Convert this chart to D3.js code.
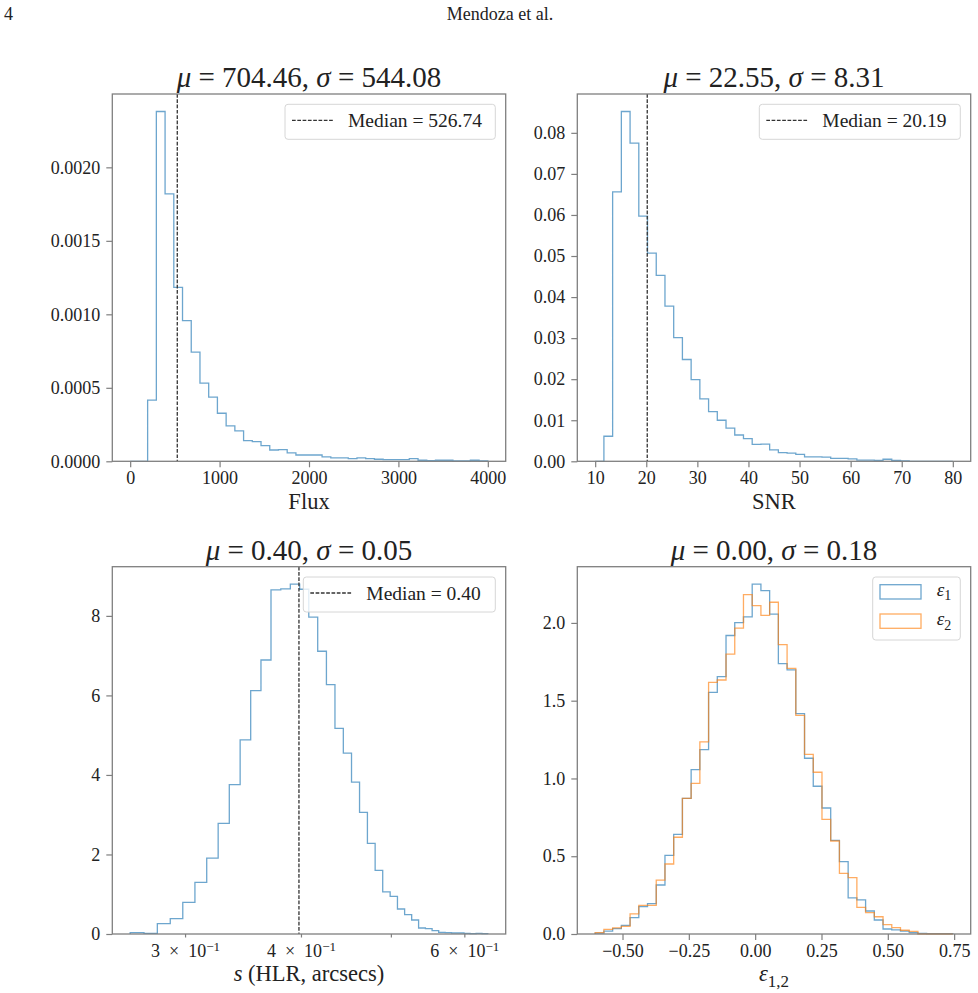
<!DOCTYPE html>
<html>
<head>
<meta charset="utf-8">
<script src="https://cdn.jsdelivr.net/npm/d3@7"></script>
<style>
  body { margin: 0; background: #fff; }
  svg text { font-family: "Liberation Serif", "DejaVu Serif", serif; fill: #222; }
</style>
</head>
<body>
<div class="figure"></div>
<script>
// Histogram densities, one value per bin (41 uniform bins each).
var fluxRange = [0, 4000];
var fluxValues = [0, 0, 0.000416, 0.00238, 0.00182, 0.001184, 0.000957, 0.000743, 0.000532, 0.000436,
  0.000327, 0.000241, 0.000207, 0.000141, 0.000134, 0.000107, 0.000077, 0.000080, 0.000057, 0.000043,
  0.000043, 0.000043, 0.000030, 0.000023, 0.000023, 0.000018, 0.000023, 0.000018, 0.000014, 0.000011,
  0.000011, 0.000011, 0.000018, 0.000007, 0.000005, 0.000007, 0.000007, 0.000002, 0.000002, 0.000007, 0.000002];
var fluxStats = [704.46, 544.08];
var fluxMedian = 526.74;

var snrRange = [10, 80];
var snrValues = [0, 0.0061, 0.0656, 0.0852, 0.0775, 0.0597, 0.0507, 0.0453, 0.0378, 0.0301,
  0.0248, 0.0199, 0.0152, 0.0121, 0.0100, 0.0081, 0.0064, 0.0055, 0.0041, 0.0042,
  0.0028, 0.0021, 0.0020, 0.0017, 0.0011, 0.0011, 0.0010, 0.0007, 0.0007, 0.0006,
  0.0003, 0.0003, 0.0002, 0.0005, 0.0002, 0.0001, 0, 0, 0, 0, 0];
var snrStats = [22.55, 8.31];
var snrMedian = 20.19;

var hlrRange = [0.2618, 0.636];
var hlrValues = [0.034, 0.017, 0.26, 0.386, 0.797, 1.30, 1.91, 2.78, 3.757, 4.88,
  6.12, 6.89, 8.654, 8.68, 8.797, 8.67, 7.97, 7.11, 6.27, 5.17,
  4.55, 3.82, 3.06, 2.28, 1.60, 1.057, 0.948, 0.629, 0.486, 0.352,
  0.151, 0.134, 0.084, 0.042, 0.034, 0.025, 0.025, 0.017, 0.008, 0.017, 0.008];
var hlrStats = [0.40, 0.05];
var hlrMedian = 0.398;

var ellRange = [-0.603, 0.745];
var e1Values = [0.006, 0.019, 0.034, 0.056, 0.105, 0.176, 0.195, 0.315, 0.506, 0.641,
  0.872, 1.057, 1.185, 1.554, 1.655, 1.919, 2.002, 2.039, 2.249, 2.208,
  2.056, 1.738, 1.698, 1.417, 1.130, 0.950, 0.810, 0.602, 0.465, 0.232,
  0.219, 0.148, 0.090, 0.032, 0.026, 0.019, 0.009, 0.004, 0.002, 0.002, 0.002];
var e2Values = [0.009, 0.030, 0.039, 0.049, 0.129, 0.184, 0.184, 0.347, 0.450, 0.622,
  0.872, 0.969, 1.235, 1.618, 1.633, 1.799, 1.966, 2.182, 2.111, 2.049,
  2.133, 1.861, 1.708, 1.406, 1.155, 1.040, 0.737, 0.598, 0.390, 0.362,
  0.171, 0.137, 0.111, 0.060, 0.041, 0.024, 0.017, 0, 0, 0, 0];
var ellStats = [0.00, 0.18];

// Tick values.
var fluxXTicks = [0, 1000, 2000, 3000, 4000];
var fluxYTicks = [0, 0.0005, 0.0010, 0.0015, 0.0020];
var snrXTicks = [10, 20, 30, 40, 50, 60, 70, 80];
var snrYTicks = [0, 0.01, 0.02, 0.03, 0.04, 0.05, 0.06, 0.07, 0.08];
var hlrXTicks = [0.3, 0.4, 0.5, 0.6];
var hlrXLabels = ["3", "4", "", "6"];
var hlrYTicks = [0, 2, 4, 6, 8];
var ellXTicks = [-0.5, -0.25, 0, 0.25, 0.5, 0.75];
var ellYTicks = [0, 0.5, 1.0, 1.5, 2.0];

var blue = "#1f77b4",
    orange = "#ff7f0e",
    frameColor = "#7f7f7f";

var w = 978,
    h = 993;

var svg = d3.select(".figure").append("svg")
  .attr("width", w)
  .attr("height", h);

// Page header.
svg.append("text").attr("x", 4).attr("y", 20).style("font-size", "18px").text("4");
svg.append("text").attr("x", 500).attr("y", 20).style("text-anchor", "middle")
  .style("font-size", "18px").text("Mendoza et al.");

// Bin edges for n uniform bins.
function edges(range, n) {
  return d3.range(n + 1).map(function(i) { return range[0] + i * (range[1] - range[0]) / n; });
}

// Outline of a step histogram.
function stepPoints(range, values) {
  var e = edges(range, values.length);
  var pts = [[e[0], 0]];
  values.forEach(function(v, i) {
    pts.push([e[i], v]);
    pts.push([e[i + 1], v]);
  });
  pts.push([e[e.length - 1], 0]);
  return pts;
}

function padLinear(range) {
  var m = (range[1] - range[0]) * 0.05;
  return [range[0] - m, range[1] + m];
}

function padLog(range) {
  var a = Math.log10(range[0]), b = Math.log10(range[1]), m = (b - a) * 0.05;
  return [Math.pow(10, a - m), Math.pow(10, b + m)];
}

function mathTitle(g, x, y, stats) {
  var t = g.append("text")
    .attr("x", x).attr("y", y)
    .style("text-anchor", "middle")
    .style("font-size", "29px");
  t.append("tspan").style("font-style", "italic").text("\u03bc");
  t.append("tspan").text(" = " + stats[0].toFixed(2) + ", ");
  t.append("tspan").style("font-style", "italic").text("\u03c3");
  t.append("tspan").text(" = " + stats[1].toFixed(2));
}

function drawPanel(p) {
  var g = svg.append("g").attr("transform", "translate(" + p.left + "," + p.top + ")");
  var pw = p.width, ph = p.height;

  var x = p.log ? d3.scaleLog() : d3.scaleLinear();
  x.domain(p.log ? padLog(p.range) : padLinear(p.range)).range([0, pw]);

  var ymax = d3.max(p.series, function(s) { return d3.max(s.values); }) * 1.05;
  var y = d3.scaleLinear().domain([0, ymax]).range([ph, 0]);

  var line = d3.line()
    .x(function(d) { return x(d[0]); })
    .y(function(d) { return y(d[1]); });

  p.series.forEach(function(s) {
    g.append("path")
      .datum(stepPoints(p.range, s.values))
      .attr("d", line)
      .attr("fill", "none")
      .attr("stroke", s.color)
      .attr("stroke-opacity", 0.65)
      .attr("stroke-width", 1.3);
  });

  if (p.median !== undefined) {
    g.append("line")
      .attr("x1", x(p.median)).attr("x2", x(p.median))
      .attr("y1", 0).attr("y2", ph)
      .attr("stroke", "#333")
      .attr("stroke-width", 1.3)
      .attr("stroke-dasharray", "3.7,1.6");
  }

  // Axes.
  var xAxis = d3.axisBottom(x).tickValues(p.xTicks).tickSizeOuter(0)
    .tickSize(p.log ? 3.5 : 6).tickPadding(p.log ? 6.5 : 4);
  if (p.xFormat) xAxis.tickFormat(p.xFormat);
  var gx = g.append("g")
    .attr("class", "axisX")
    .attr("transform", "translate(0," + ph + ")")
    .call(xAxis);

  var yAxis = d3.axisLeft(y).tickValues(p.yTicks).tickSizeOuter(0)
    .tickSize(6).tickPadding(6).tickFormat(p.yFormat);
  var gy = g.append("g")
    .attr("class", "axisY")
    .call(yAxis);

  [gx, gy].forEach(function(a) {
    a.select(".domain").remove();
    a.selectAll(".tick line").attr("stroke", frameColor).attr("stroke-width", 1.2);
    a.selectAll(".tick text").style("font-size", "18px").attr("fill", "#222");
  });

  if (p.log) {
    gx.selectAll(".tick text").each(function(d, i) {
      var t = d3.select(this).text("");
      if (!p.xLabels[i]) return;
      t.append("tspan").text(p.xLabels[i] + "\u2002\u00d7\u200210");
      t.append("tspan").attr("dy", "-0.45em").style("font-size", "13px").text("\u22121");
    });
  }

  // Frame.
  g.append("rect")
    .attr("width", pw).attr("height", ph)
    .attr("fill", "none")
    .attr("stroke", frameColor)
    .attr("stroke-width", 1.3);

  mathTitle(g, pw / 2, -7, p.stats);

  var xl = g.append("text")
    .attr("x", pw / 2).attr("y", ph + 47.5)
    .style("text-anchor", "middle")
    .style("font-size", "22.5px");
  p.xLabel(xl);

  // Legend.
  var lg = g.append("g").attr("transform", "translate(" + (pw - 10.4 - p.legendWidth) + ",10.3)");
  if (p.median !== undefined) {
    lg.append("rect")
      .attr("width", p.legendWidth).attr("height", 35).attr("rx", 3)
      .attr("fill", "#fff").attr("fill-opacity", 0.8)
      .attr("stroke", "#d6d6d6");
    lg.append("line")
      .attr("x1", 7).attr("x2", 48).attr("y1", 16).attr("y2", 16)
      .attr("stroke", "#333").attr("stroke-width", 1.3)
      .attr("stroke-dasharray", "3.7,1.6");
    lg.append("text")
      .attr("x", 63).attr("y", 22.5)
      .style("font-size", "19.5px")
      .text("Median = " + p.medianLabel);
  } else {
    lg.append("rect")
      .attr("width", p.legendWidth).attr("height", 63).attr("rx", 3)
      .attr("fill", "#fff").attr("fill-opacity", 0.8)
      .attr("stroke", "#d6d6d6");
    p.series.forEach(function(s, i) {
      lg.append("rect")
        .attr("x", 7.3).attr("y", 7.7 + i * 29.3)
        .attr("width", 41).attr("height", 14.3)
        .attr("fill", "none")
        .attr("stroke", s.color).attr("stroke-opacity", 0.65).attr("stroke-width", 1.3);
      var t = lg.append("text")
        .attr("x", 64).attr("y", 19 + i * 29.3)
        .style("font-size", "19px");
      t.append("tspan").style("font-style", "italic").text("\u03b5");
      t.append("tspan").attr("dy", "0.3em").style("font-size", "14px").text(s.label);
    });
  }
}

var colL = 112.3, colR = 577.3, rowT = 94, rowB = 566.7,
    pwidth = 393.4, pheight = 367.3;

drawPanel({
  left: colL, top: rowT, width: pwidth, height: pheight,
  range: fluxRange, series: [{values: fluxValues, color: blue}],
  xTicks: fluxXTicks, yTicks: fluxYTicks,
  xFormat: d3.format("d"), yFormat: d3.format(".4f"),
  stats: fluxStats, median: fluxMedian, medianLabel: fluxMedian.toFixed(2), legendWidth: 210.3,
  xLabel: function(t) { t.text("Flux"); }
});

drawPanel({
  left: colR, top: rowT, width: pwidth, height: pheight,
  range: snrRange, series: [{values: snrValues, color: blue}],
  xTicks: snrXTicks, yTicks: snrYTicks,
  xFormat: d3.format("d"), yFormat: d3.format(".2f"),
  stats: snrStats, median: snrMedian, medianLabel: snrMedian.toFixed(2), legendWidth: 201,
  xLabel: function(t) { t.text("SNR"); }
});

drawPanel({
  left: colL, top: rowB, width: pwidth, height: pheight,
  range: hlrRange, log: true, series: [{values: hlrValues, color: blue}],
  xTicks: hlrXTicks, xLabels: hlrXLabels, yTicks: hlrYTicks,
  yFormat: d3.format("d"),
  stats: hlrStats, median: hlrMedian, medianLabel: "0.40", legendWidth: 192,
  xLabel: function(t) {
    t.append("tspan").style("font-style", "italic").text("s");
    t.append("tspan").text(" (HLR, arcsecs)");
  }
});

drawPanel({
  left: colR, top: rowB, width: pwidth, height: pheight,
  range: ellRange, series: [{values: e1Values, color: blue, label: "1"}, {values: e2Values, color: orange, label: "2"}],
  xTicks: ellXTicks, yTicks: ellYTicks,
  xFormat: d3.format(".2f"), yFormat: d3.format(".1f"),
  stats: ellStats, legendWidth: 87.6,
  xLabel: function(t) {
    t.append("tspan").style("font-style", "italic").text("\u03b5");
    t.append("tspan").attr("dy", "0.3em").style("font-size", "17px").text("1,2");
  }
});
</script>
</body>
</html>
